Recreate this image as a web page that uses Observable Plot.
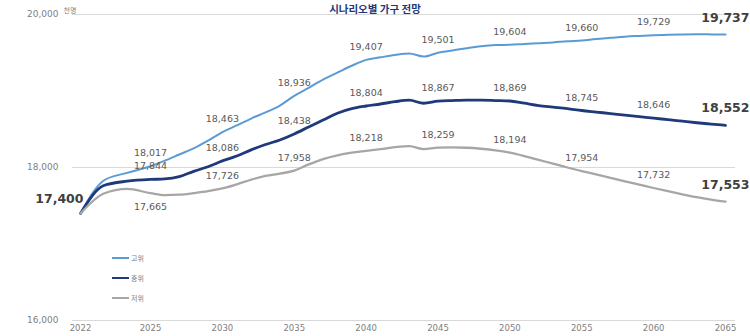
<!DOCTYPE html>
<html><head><meta charset="utf-8">
<script src="https://cdn.jsdelivr.net/npm/d3@7"></script>
<script src="https://cdn.jsdelivr.net/npm/@observablehq/plot@0.6"></script>
<style>
body{margin:0;background:#fff;}
#wrap{position:relative;width:750px;height:336px;overflow:hidden;font-family:"DejaVu Sans","Noto Sans CJK KR",sans-serif;}
#title{position:absolute;top:2px;left:0;width:750px;text-align:center;font-weight:bold;font-size:10.5px;line-height:14px;color:#1F3A7A;font-family:"Noto Sans CJK KR",sans-serif;}
#chart{position:absolute;left:0;top:0;}
#legend{position:absolute;left:112px;top:248px;font-size:7px;color:#808080;font-family:"Noto Sans CJK KR",sans-serif;}
#legend div{height:20px;display:flex;align-items:center;}
#legend span.sw{display:inline-block;width:17px;margin-right:2px;}
</style></head>
<body>
<div id="wrap">
<div id="chart"></div>
<div id="title">시나리오별 가구 전망</div>
<div id="legend"></div>
</div>
<script>
const years = [2022,2023,2024,2025,2026,2027,2028,2029,2030,2031,2032,2033,2034,2035,2036,2037,2038,2039,2040,2041,2042,2043,2044,2045,2046,2047,2048,2049,2050,2051,2052,2053,2054,2055,2056,2057,2058,2059,2060,2061,2062,2063,2064,2065];
const high = [17400,17830,17930,18017,18090,18170,18250,18350,18463,18550,18640,18720,18810,18936,19040,19150,19240,19330,19407,19440,19470,19490,19450,19501,19530,19560,19585,19600,19604,19615,19625,19635,19650,19660,19680,19695,19710,19720,19729,19735,19740,19742,19740,19737];
const medium = [17400,17765,17821,17844,17850,17880,17950,18010,18086,18150,18230,18300,18360,18438,18530,18620,18710,18770,18804,18830,18860,18880,18840,18867,18875,18880,18880,18875,18869,18840,18810,18790,18770,18745,18725,18705,18685,18665,18646,18625,18605,18585,18568,18552];
const low = [17400,17660,17720,17665,17640,17645,17665,17690,17726,17780,17840,17890,17920,17958,18040,18110,18160,18195,18218,18240,18265,18280,18240,18259,18262,18258,18245,18225,18194,18150,18100,18050,18000,17954,17910,17865,17820,17776,17732,17690,17650,17612,17580,17553];
const seriesNames = ["고위","중위","저위"];
const seriesColors = ["#5B9BD5","#1F3A7A","#A6A6A6"];
const seriesWidths = [2,2.8,2.3];
const labelYears = [2025,2030,2035,2040,2045,2050,2055,2060];
const xTicks = [2022,2025,2030,2035,2040,2045,2050,2055,2060,2065];
const yTicks = [16000,18000,20000];
const unitLabel = "천명";

const seriesValues = [high, medium, low];
const rows = [];
seriesNames.forEach((name, si) => years.forEach((yr, i) => rows.push({series: name, si, year: yr, value: seriesValues[si][i]})));

const labelRows = rows.filter(d => labelYears.includes(d.year));
const lowDip = labelRows.filter(d => d.si === 2 && d.year === 2025);
const normalLabels = labelRows.filter(d => !(d.si === 2 && d.year === 2025));
const endRows = rows.filter(d => d.year === years[years.length - 1]);
const startRow = rows.filter(d => d.year === years[0] && d.si === 1);

const fmt = d3.format(",");
const font = "DejaVu Sans, Noto Sans CJK KR, sans-serif";

const lineMarks = seriesNames.map((name, si) =>
  Plot.line(rows.filter(d => d.si === si), {x: "year", y: "value", stroke: seriesColors[si], strokeWidth: seriesWidths[si], curve: "monotone-x"})
);

const chart = Plot.plot({
  width: 750, height: 336,
  marginTop: 14, marginBottom: 16, marginLeft: 72, marginRight: 15,
  style: {fontFamily: font, fontSize: "9px", color: "#7f7f7f", background: "transparent"},
  x: {type: "linear", domain: [2022, 2025, 2065], range: [80, 150, 725]},
  y: {domain: [16000, 20000]},
  marks: [
    Plot.gridY(yTicks, {stroke: "#d9d9d9", strokeOpacity: 1, strokeWidth: 1}),
    Plot.axisY(yTicks, {tickSize: 0, tickPadding: 14, tickFormat: fmt, fill: "#808080", fontSize: 9, label: null}),
    Plot.axisX(xTicks, {tickSize: 0, tickPadding: 4, tickFormat: d => String(d), fill: "#808080", fontSize: 8.5, label: null}),
    Plot.text([unitLabel], {frameAnchor: "top-left", dx: -9, dy: -6, textAnchor: "start", fontSize: 7, fill: "#808080", fontFamily: "Noto Sans CJK KR"}),
    ...lineMarks,
    Plot.text(normalLabels, {x: "year", y: "value", text: d => fmt(d.value), dy: -13, fontSize: 9.5, fill: "#595959"}),
    Plot.text(lowDip, {x: "year", y: "value", text: d => fmt(d.value), dy: 14, fontSize: 9.5, fill: "#595959"}),
    Plot.text(endRows, {x: "year", y: "value", text: d => fmt(d.value), dy: -17, dx: 24, textAnchor: "end", fontSize: 12.5, fontWeight: "bold", fill: "#404040"}),
    Plot.text(startRow, {x: "year", y: "value", text: d => fmt(d.value), dy: -14, dx: 3, textAnchor: "end", fontSize: 12.5, fontWeight: "bold", fill: "#404040"})
  ]
});
document.getElementById("chart").appendChild(chart);

const legend = document.getElementById("legend");
seriesNames.forEach((name, si) => {
  const row = document.createElement("div");
  const sw = document.createElement("span");
  sw.className = "sw";
  sw.style.borderTop = `${seriesWidths[si]}px solid ${seriesColors[si]}`;
  row.appendChild(sw);
  row.appendChild(document.createTextNode(name));
  legend.appendChild(row);
});
</script>
</body></html>
